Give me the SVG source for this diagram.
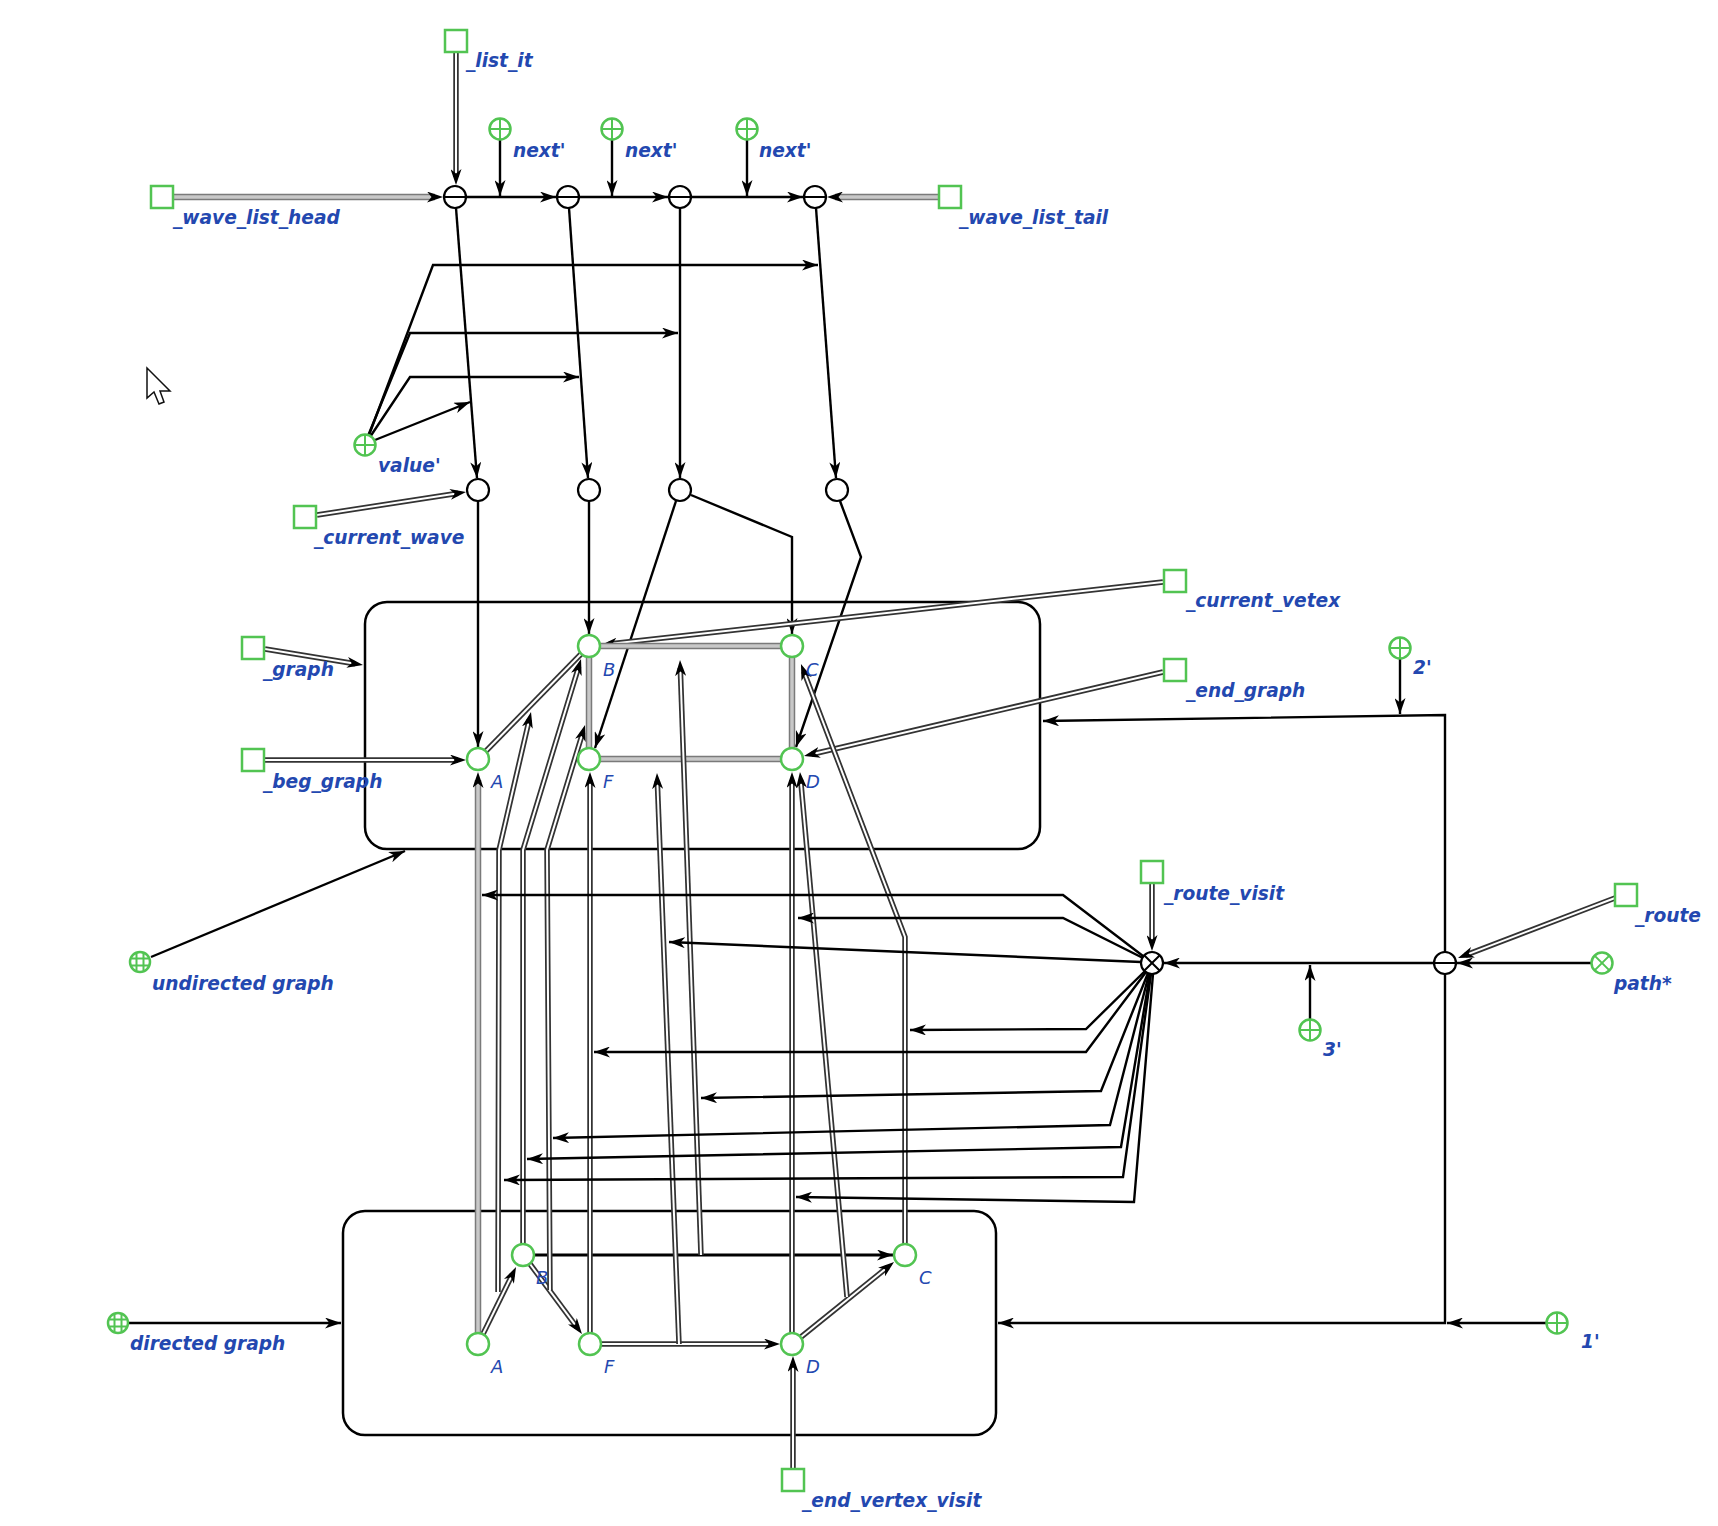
<svg xmlns="http://www.w3.org/2000/svg" xmlns:xlink="http://www.w3.org/1999/xlink" width="1718" height="1526" viewBox="0 0 1718 1526">
<style>
  .lbl{font-family:"DejaVu Sans","Liberation Sans",sans-serif;font-size:18.6px;font-weight:bold;font-style:oblique;fill:#2348b0}
  .ltr{font-family:"DejaVu Sans","Liberation Sans",sans-serif;font-size:18px;font-style:oblique;fill:#2348b0}
  .box{fill:none;stroke:#000;stroke-width:2.5}
  .a{fill:none;stroke:#000;stroke-width:2.4;marker-end:url(#ah)}
  .thick{fill:none;stroke:#000;stroke-width:3;marker-end:url(#ah)}
  .dout{fill:none;stroke:#333;stroke-width:5.5}
  .din{fill:none;stroke:#fff;stroke-width:2}
  .gout{fill:none;stroke:#7a7a7a;stroke-width:6.5}
  .gin{fill:none;stroke:#c8c8c8;stroke-width:3.5}
  .arr{marker-end:url(#ahd)}
  .sq{fill:#fff;stroke:#52c452;stroke-width:2.5}
  .gc{fill:#fff;stroke:#52c452;stroke-width:2.5}
  .gx{fill:none;stroke:#52c452;stroke-width:2}
  .bc{fill:#fff;stroke:#000;stroke-width:2.2}
  .bx{fill:none;stroke:#000;stroke-width:2}
</style>
<defs>
  <marker id="ah" viewBox="0 0 16 11" refX="16" refY="5.5" markerWidth="16" markerHeight="11" markerUnits="userSpaceOnUse" orient="auto">
    <path d="M0,0 L16,5.5 L0,11 L4.5,5.5 z" fill="#000"/>
  </marker>
  <marker id="ahd" viewBox="0 0 16 11" refX="8" refY="5.5" markerWidth="16" markerHeight="11" markerUnits="userSpaceOnUse" orient="auto">
    <path d="M0,0 L16,5.5 L0,11 L4.5,5.5 z" fill="#000"/>
  </marker>
  <!-- node glyphs -->
  <g id="square"><rect x="-11" y="-11" width="22" height="22" class="sq"/></g>
  <g id="plus"><circle r="10.5" class="gc"/><path d="M-10.5,0 H10.5 M0,-10.5 V10.5" class="gx"/></g>
  <g id="gcross"><circle r="10.5" class="gc"/><path d="M-7.4,-7.4 L7.4,7.4 M7.4,-7.4 L-7.4,7.4" class="gx"/></g>
  <g id="globe"><circle r="10" class="gc"/><path d="M-3.5,-9.4 V9.4 M3.5,-9.4 V9.4 M-9.4,-3.5 H9.4 M-9.4,3.5 H9.4" class="gx" stroke-width="1.5"/></g>
  <g id="vert"><circle r="11" class="gc"/></g>
  <g id="minus"><circle r="11" class="bc"/><path d="M-11,0 H11" class="bx"/></g>
  <g id="cross"><circle r="11" class="bc"/><path d="M-7.8,-7.8 L7.8,7.8 M7.8,-7.8 L-7.8,7.8" class="bx"/></g>
  <g id="dot"><circle r="11" class="bc"/></g>
</defs>

<rect width="1718" height="1526" fill="#fff"/>

<!-- graph containers -->
<g id="undirected_graph_box"><rect x="365" y="602" width="675" height="247" rx="22" class="box"/></g>
<g id="directed_graph_box"><rect x="343" y="1211" width="653" height="224" rx="22" class="box"/></g>

<g id="connectors">
  <!-- wave list chain -->
  <path class="gout" d="M173,197 L435,197"/><path class="gin arr" d="M173,197 L435,197"/>
  <path class="gout" d="M939,197 L835,197"/><path class="gin arr" d="M939,197 L835,197"/>
  <path class="dout" d="M456,53 L456,177"/><path class="din arr" d="M456,53 L456,177"/>
  <path class="a" d="M466,197 L556,197"/>
  <path class="a" d="M579,197 L668,197"/>
  <path class="a" d="M691,197 L803,197"/>
  <path class="a" d="M500,140 L500,196"/>
  <path class="a" d="M612,140 L612,196"/>
  <path class="a" d="M747,140 L747,196"/>
  <path class="a" d="M456,208 L477,478"/>
  <path class="a" d="M569,208 L588,478"/>
  <path class="a" d="M680,208 L680,478"/>
  <path class="a" d="M816,208 L836,478"/>
  <!-- value' -->
  <path class="a" d="M369,435 L433,265 L818,265"/>
  <path class="a" d="M368,436 L410,333 L678,333"/>
  <path class="a" d="M370,437 L410,377 L579,377"/>
  <path class="a" d="M375,440 L470,402"/>
  <path class="dout" d="M317,515 L458.1,493.2"/><path class="din arr" d="M317,515 L458.1,493.2"/>
  <!-- wave values into the graph -->
  <path class="a" d="M478,501 L478,747"/>
  <path class="a" d="M589,501 L589,634"/>
  <path class="a" d="M676,501 L595,748"/>
  <path class="a" d="M691,495 L792,537 L792,634"/>
  <path class="a" d="M840,501 L861,557 L796,747"/>
  <!-- inputs of the undirected graph -->
  <path class="dout" d="M265,649 L355.1,663.7"/><path class="din arr" d="M265,649 L355.1,663.7"/>
  <path class="dout" d="M265,760 L458,760"/><path class="din arr" d="M265,760 L458,760"/>
  <path class="dout" d="M1163,582 L609,644.1"/><path class="din arr" d="M1163,582 L609,644.1"/>
  <path class="dout" d="M1163,672 L811.8,754.2"/><path class="din arr" d="M1163,672 L811.8,754.2"/>
  <!-- undirected graph edges -->
  <path class="gout" d="M600,646 L781,646"/><path class="gin" d="M600,646 L781,646"/>
  <path class="gout" d="M600,759 L781,759"/><path class="gin" d="M600,759 L781,759"/>
  <path class="gout" d="M589,657 L589,748"/><path class="gin" d="M589,657 L589,748"/>
  <path class="gout" d="M792,657 L792,748"/><path class="gin" d="M792,657 L792,748"/>
  <path class="dout" d="M486,751 L581,654"/><path class="din" d="M486,751 L581,654"/>
  <!-- directed graph arcs -->
  <path class="dout" d="M483,1334 L512.5,1274.2"/><path class="din arr" d="M483,1334 L512.5,1274.2"/>
  <path class="dout" d="M530,1264 L577.2,1327.6"/><path class="din arr" d="M530,1264 L577.2,1327.6"/>
  <path class="dout" d="M601,1344 L772,1344"/><path class="din arr" d="M601,1344 L772,1344"/>
  <path class="dout" d="M801,1337 L887.8,1267"/><path class="din arr" d="M801,1337 L887.8,1267"/>
  <path class="thick" d="M534,1255 L893,1255"/>
  <path class="dout" d="M793,1468 L793,1364"/><path class="din arr" d="M793,1468 L793,1364"/>
  <!-- correspondence between the two graphs -->
  <path class="gout" d="M478,1333 L478,780"/><path class="gin arr" d="M478,1333 L478,780"/>
  <path class="dout" d="M498,1292 L499,850 L529.2,719.8"/><path class="din arr" d="M498,1292 L499,850 L529.2,719.8"/>
  <path class="dout" d="M523,1244 L523,850 L578.7,666.7"/><path class="din arr" d="M523,1244 L523,850 L578.7,666.7"/>
  <path class="dout" d="M550,1290 L547,850 L582.7,732.7"/><path class="din arr" d="M550,1290 L547,850 L582.7,732.7"/>
  <path class="dout" d="M590,1333 L590,780"/><path class="din arr" d="M590,1333 L590,780"/>
  <path class="dout" d="M679,1344 L657.3,781"/><path class="din arr" d="M679,1344 L657.3,781"/>
  <path class="dout" d="M701,1255 L680.3,668"/><path class="din arr" d="M701,1255 L680.3,668"/>
  <path class="dout" d="M792,1333 L792,780"/><path class="din arr" d="M792,1333 L792,780"/>
  <path class="dout" d="M847,1297 L800.7,780"/><path class="din arr" d="M847,1297 L800.7,780"/>
  <path class="dout" d="M905,1244 L905,937 L803.8,671.5"/><path class="din arr" d="M905,1244 L905,937 L803.8,671.5"/>
  <!-- route handling -->
  <path class="a" d="M1445,952 L1445,715 L1043,721"/>
  <path class="a" d="M1445,974 L1445,1323 L998,1323"/>
  <path class="a" d="M1400,659 L1400,714"/>
  <path class="a" d="M1546,1323 L1447,1323"/>
  <path class="a" d="M1310,1019 L1310,965"/>
  <path class="a" d="M1434,963 L1164,963"/>
  <path class="a" d="M1591,963 L1457,963"/>
  <path class="dout" d="M1615,898 L1465.5,955.1"/><path class="din arr" d="M1615,898 L1465.5,955.1"/>
  <path class="dout" d="M1152,883 L1152,943"/><path class="din arr" d="M1152,883 L1152,943"/>
  <!-- fan from the route visit -->
  <path class="a" d="M1143,956 L1063,895 L482,895"/>
  <path class="a" d="M1143,958 L1063,918 L798,918"/>
  <path class="a" d="M1141,962 L669,942"/>
  <path class="a" d="M1145,971 L1086,1029 L910,1030"/>
  <path class="a" d="M1146,972 L1086,1052 L594,1052"/>
  <path class="a" d="M1148,973 L1101,1091 L701,1098"/>
  <path class="a" d="M1149,974 L1110,1125 L553,1138"/>
  <path class="a" d="M1150,974 L1121,1147 L527,1159"/>
  <path class="a" d="M1151,974 L1123,1177 L504,1180"/>
  <path class="a" d="M1153,974 L1134,1202 L796,1197"/>
  <!-- graph kinds -->
  <path class="a" d="M151,957 L405,851"/>
  <path class="a" d="M129,1323 L341,1323"/>
</g>

<!-- wave list -->
<g id="list_it"><use href="#square" x="456" y="41"/><text class="lbl" x="466" y="67">_list_it</text></g>
<g id="wave_list_head"><use href="#square" x="162" y="197"/><text class="lbl" x="173" y="224">_wave_list_head</text></g>
<g id="wave_list_tail"><use href="#square" x="950" y="197"/><text class="lbl" x="959" y="224">_wave_list_tail</text></g>
<g id="next1"><use href="#plus" x="500" y="129"/><text class="lbl" x="513" y="157">next'</text></g>
<g id="next2"><use href="#plus" x="612" y="129"/><text class="lbl" x="625" y="157">next'</text></g>
<g id="next3"><use href="#plus" x="747" y="129"/><text class="lbl" x="759" y="157">next'</text></g>
<g id="w1"><use href="#minus" x="455" y="197"/></g>
<g id="w2"><use href="#minus" x="568" y="197"/></g>
<g id="w3"><use href="#minus" x="680" y="197"/></g>
<g id="w4"><use href="#minus" x="815" y="197"/></g>
<g id="value"><use href="#plus" x="365" y="445"/><text class="lbl" x="378" y="472">value'</text></g>
<g id="v1"><use href="#dot" x="478" y="490"/></g>
<g id="v2"><use href="#dot" x="589" y="490"/></g>
<g id="v3"><use href="#dot" x="680" y="490"/></g>
<g id="v4"><use href="#dot" x="837" y="490"/></g>
<g id="current_wave"><use href="#square" x="305" y="517"/><text class="lbl" x="314" y="544">_current_wave</text></g>

<!-- undirected graph -->
<g id="graph"><use href="#square" x="253" y="648"/><text class="lbl" x="263" y="676">_graph</text></g>
<g id="beg_graph"><use href="#square" x="253" y="760"/><text class="lbl" x="263" y="788">_beg_graph</text></g>
<g id="current_vetex"><use href="#square" x="1175" y="581"/><text class="lbl" x="1186" y="607">_current_vetex</text></g>
<g id="end_graph"><use href="#square" x="1175" y="670"/><text class="lbl" x="1186" y="697">_end_graph</text></g>
<g id="uB"><use href="#vert" x="589" y="646"/><text class="ltr" x="603" y="676">B</text></g>
<g id="uC"><use href="#vert" x="792" y="646"/><text class="ltr" x="806" y="676">C</text></g>
<g id="uA"><use href="#vert" x="478" y="759"/><text class="ltr" x="491" y="788">A</text></g>
<g id="uF"><use href="#vert" x="589" y="759"/><text class="ltr" x="603" y="788">F</text></g>
<g id="uD"><use href="#vert" x="792" y="759"/><text class="ltr" x="806" y="788">D</text></g>
<g id="undirected"><use href="#globe" x="140" y="962"/><text class="lbl" x="152" y="990">undirected graph</text></g>

<!-- route -->
<g id="two"><use href="#plus" x="1400" y="648"/><text class="lbl" x="1413" y="674">2'</text></g>
<g id="route_visit"><use href="#square" x="1152" y="872"/><text class="lbl" x="1164" y="900">_route_visit</text></g>
<g id="route"><use href="#square" x="1626" y="895"/><text class="lbl" x="1635" y="922">_route</text></g>
<g id="visit"><use href="#cross" x="1152" y="963"/></g>
<g id="split"><use href="#minus" x="1445" y="963"/></g>
<g id="path"><use href="#gcross" x="1602" y="963"/><text class="lbl" x="1614" y="990">path*</text></g>
<g id="three"><use href="#plus" x="1310" y="1030"/><text class="lbl" x="1323" y="1056">3'</text></g>
<g id="one"><use href="#plus" x="1557" y="1323"/><text class="lbl" x="1581" y="1348">1'</text></g>

<!-- directed graph -->
<g id="dB"><use href="#vert" x="523" y="1255"/><text class="ltr" x="536" y="1284">B</text></g>
<g id="dC"><use href="#vert" x="905" y="1255"/><text class="ltr" x="919" y="1284">C</text></g>
<g id="dA"><use href="#vert" x="478" y="1344"/><text class="ltr" x="491" y="1373">A</text></g>
<g id="dF"><use href="#vert" x="590" y="1344"/><text class="ltr" x="604" y="1373">F</text></g>
<g id="dD"><use href="#vert" x="792" y="1344"/><text class="ltr" x="806" y="1373">D</text></g>
<g id="directed"><use href="#globe" x="118" y="1323"/><text class="lbl" x="130" y="1350">directed graph</text></g>
<g id="end_vertex_visit"><use href="#square" x="793" y="1480"/><text class="lbl" x="802" y="1507">_end_vertex_visit</text></g>

<!-- pointer -->
<path d="M147,368 L147,398 L154,392 L159,404 L164,402 L160,391 L170,391 z" fill="#fff" stroke="#111" stroke-width="1.5" stroke-linejoin="miter"/>
</svg>
